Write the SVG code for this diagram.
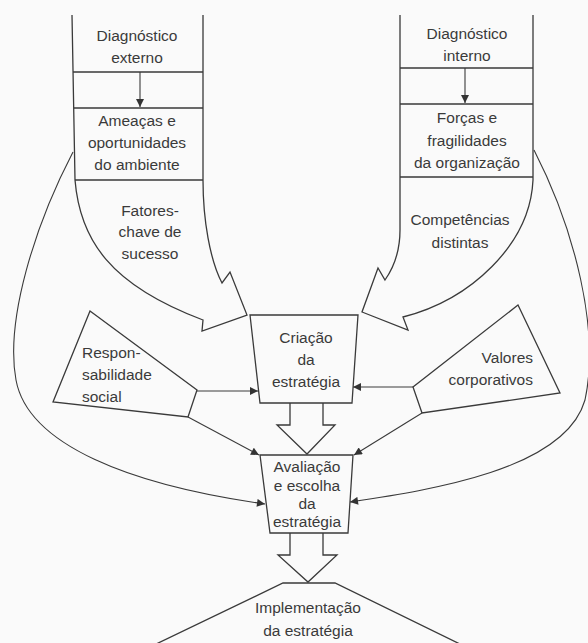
<svg xmlns="http://www.w3.org/2000/svg" width="588" height="643" viewBox="0 0 588 643">
<defs>
<marker id="ah" viewBox="0 0 10 10" refX="10" refY="5" markerWidth="9" markerHeight="8" markerUnits="userSpaceOnUse" orient="auto"><path d="M0,0 L10,5 L0,10 z" fill="#333"/></marker>
</defs>
<style>
.ln{fill:none;stroke:#3a3a3a;stroke-width:1.3;stroke-linejoin:miter}
.bx{fill:#fafafa;stroke:#3a3a3a;stroke-width:1.3}
.t{font-family:"Liberation Sans",Arial,sans-serif;font-size:15.5px;fill:#3a3a3a;text-anchor:middle}
.s{text-anchor:start}
.e{text-anchor:end}
.c{stroke:#3a3a3a;stroke-width:1.1;fill:none;marker-end:url(#ah)}
</style>
<rect width="588" height="643" fill="#fafafa"/>

<g id="connectors">
<path class="c" d="M140,72 V107"/>
<path class="c" d="M465,68 V103"/>
<path class="c" d="M197,391 H258"/>
<path class="c" d="M413,387 H353"/>
<path class="c" d="M188,417 L259,455"/>
<path class="c" d="M422,413 L354,455"/>
<path class="c" d="M73,152 C35,225 5,320 16,380 C28,445 130,485 265,504"/>
<path class="c" d="M534,150 C575,230 600,330 585,400 C565,470 430,490 350,502"/>
</g>

<g id="externo">
<path class="ln" d="M72,15 L75,180 C80,240 110,285 203,320 L202,331 L247,315 L230,272 L222,283 C210,260 203,220 203,180 L203,15"/>
<path class="ln" d="M73,72 H203 M74,108 H203 M75,180 H203"/>
<text class="t" x="137" y="41">Diagnóstico</text>
<text class="t" x="137" y="63">externo</text>
<text class="t" x="137" y="126">Ameaças e</text>
<text class="t" x="137" y="148">oportunidades</text>
<text class="t" x="137" y="170">do ambiente</text>
<text class="t" x="150" y="216">Fatores-</text>
<text class="t" x="150" y="237">chave de</text>
<text class="t" x="150" y="259">sucesso</text>
</g>

<g id="interno">
<path class="ln" d="M400,15 L400,230 C400,255 392,270 385,280 L378,268 L362,312 L408,330 L403,317 C470,300 530,245 533,180 L533,15"/>
<path class="ln" d="M400,68 H533 M400,104 H533 M400,177 H533"/>
<text class="t" x="467" y="39">Diagnóstico</text>
<text class="t" x="467" y="61">interno</text>
<text class="t" x="467" y="123">Forças e</text>
<text class="t" x="467" y="146">fragilidades</text>
<text class="t" x="467" y="168">da organização</text>
<text class="t" x="460" y="225">Competências</text>
<text class="t" x="460" y="248">distintas</text>
</g>

<g id="responsabilidade">
<polygon class="ln" points="90,311 197,390 188,417 53,402"/>
<text class="t s" x="82" y="358">Respon-</text>
<text class="t s" x="82" y="380">sabilidade</text>
<text class="t s" x="82" y="402">social</text>
</g>

<g id="valores">
<polygon class="ln" points="518,305 560,393 422,413 413,387"/>
<text class="t e" x="533" y="363">Valores</text>
<text class="t e" x="533" y="385">corporativos</text>
</g>

<g id="criacao">
<polygon class="ln" points="250,315 358,315 352,403 260,403"/>
<text class="t" x="306" y="343">Criação</text>
<text class="t" x="306" y="365">da</text>
<text class="t" x="306" y="387">estratégia</text>
</g>

<g id="seta1">
<path class="ln" d="M290,403 V425 H277 L307,454 L335,425 H323 V403"/>
</g>

<g id="avaliacao">
<polygon class="ln" points="260,455 353,455 348,533 270,533"/>
<text class="t" x="307" y="472">Avaliação</text>
<text class="t" x="307" y="491">e escolha</text>
<text class="t" x="307" y="509">da</text>
<text class="t" x="307" y="527">estratégia</text>
</g>

<g id="seta2">
<path class="ln" d="M290,533 V555 H278 L308,582 L337,555 H323 V533"/>
</g>

<g id="implementacao">
<path class="ln" d="M152,646 L283,583 H335 L464,646"/>
<text class="t" x="308" y="613">Implementação</text>
<text class="t" x="308" y="636">da estratégia</text>
</g>
</svg>
